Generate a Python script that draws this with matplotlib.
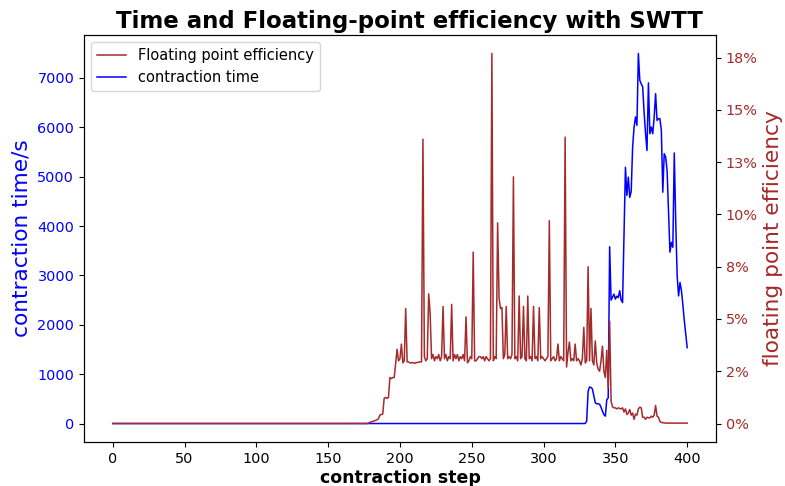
import matplotlib
matplotlib.use("Agg")
import matplotlib.pyplot as plt
from matplotlib.ticker import FixedLocator, FixedFormatter

# contraction step index
steps = list(range(0, 401))

# floating point efficiency per step, in percent
efficiency_pct = (
    [0.0] * 178
    + [0.02, 0.05, 0.08, 0.10, 0.12, 0.15, 0.18, 0.22, 0.40, 0.43,      # 178-187
       0.45, 1.20, 1.25, 1.20, 1.25, 2.20, 2.15, 2.20, 2.20, 2.90,      # 188-197
       3.55, 3.00, 3.10, 3.80, 2.90, 3.00, 5.50, 2.95, 2.95, 2.90,      # 198-207
       2.90, 2.92, 2.88, 2.90, 2.92, 2.93, 2.95, 2.95, 13.60, 3.20,     # 208-217
       3.00, 3.10, 6.20, 5.30, 3.10, 3.30, 3.00, 3.20, 3.10, 3.30,      # 218-227
       3.00, 3.20, 5.60, 3.10, 3.30, 3.00, 3.20, 3.10, 5.70, 3.00,      # 228-237
       3.30, 3.10, 3.30, 3.00, 3.20, 3.10, 3.30, 3.00, 5.10, 2.90,      # 238-247
       3.00, 3.20, 3.10, 8.20, 3.00, 3.00, 3.10, 3.20, 3.20, 3.10,      # 248-257
       3.20, 3.00, 3.20, 3.10, 3.00, 3.10, 17.70, 3.00, 3.20, 3.10,     # 258-267
       9.60, 6.00, 5.50, 5.55, 3.10, 3.30, 5.60, 3.10, 3.20, 3.10,      # 268-277
       3.30, 11.80, 3.10, 3.20, 3.00, 6.10, 3.10, 3.20, 5.60, 3.10,     # 278-287
       3.00, 6.10, 3.10, 3.20, 3.00, 5.60, 3.10, 3.20, 3.00, 5.55,      # 288-297
       3.10, 3.20, 3.10, 3.00, 3.10, 3.20, 9.70, 3.00, 3.10, 3.20,      # 298-307
       3.00, 3.10, 3.80, 3.00, 3.20, 3.10, 3.00, 13.70, 2.70, 3.40,     # 308-317
       3.90, 3.00, 3.10, 3.00, 3.80, 3.00, 3.10, 3.00, 2.80, 3.10,      # 318-327
       4.60, 2.90, 3.00, 7.50, 3.00, 5.50, 3.00, 2.80, 3.95, 2.90,      # 328-337
       2.60, 2.50, 3.00, 3.70, 2.50, 2.20, 3.50, 1.70, 4.90, 1.07,      # 338-347
       0.80, 0.75, 0.75, 0.70, 0.75, 0.72, 0.70, 0.75, 0.55, 0.70,      # 348-357
       0.43, 0.50, 0.67, 0.40, 0.50, 0.20, 0.45, 0.40, 0.70, 0.78,      # 358-367
       0.75, 0.30, 0.30, 0.20, 0.30, 0.28, 0.27, 0.35, 0.30, 0.40,      # 368-377
       0.86, 0.35, 0.30, 0.10, 0.05, 0.04, 0.03]                        # 378-384
    + [0.02] * 16                                                        # 385-400
)

# contraction time per step, in seconds
contraction_time = (
    [0.0] * 330
    + [50, 650, 740, 730, 700, 560, 420, 400, 400, 390,                 # 330-339
       330, 250, 180, 150, 480, 520, 3580, 2500, 2560, 2620,            # 340-349
       2520, 2580, 2550, 2690, 2500, 2450, 3800, 5190, 4620, 4990,      # 350-359
       4580, 4700, 5600, 6000, 6210, 6040, 7495, 6950, 6880, 6820,      # 360-369
       6300, 5870, 5530, 6900, 5870, 6005, 5870, 6200, 6680, 6140,      # 370-379
       6175, 6175, 5940, 4685, 5465, 5400, 5125, 4300, 3470, 3670,      # 380-389
       3570, 5480, 4100, 3000, 2585, 2855, 2690, 2400, 2080, 1800,      # 390-399
       1537]                                                             # 400
)

eff_ticks = [0, 2.5, 5, 7.5, 10, 12.5, 15, 17.5]
eff_tick_labels = ["0%", "2%", "5%", "8%", "10%", "13%", "15%", "18%"]

EFF_COLOR = "#a52a2a"
TIME_COLOR = "blue"

fig = plt.figure(figsize=(7.85, 4.86), dpi=100)
ax = fig.add_axes([0.107, 0.0905, 0.805, 0.8375])
ax2 = ax.twinx()

line_t, = ax.plot(steps, contraction_time, color=TIME_COLOR, lw=1.1,
                  label="contraction time")
line_e, = ax2.plot(steps, efficiency_pct, color=EFF_COLOR, lw=1.1,
                   label="Floating point efficiency")

ax.set_xlim(-20, 420)
ax.set_xticks([0, 50, 100, 150, 200, 250, 300, 350, 400])
ax.tick_params(axis="x", labelsize=10.4)
ax.set_xlabel("contraction step", fontsize=12.5, fontweight="bold", labelpad=2)

ax.set_ylabel("contraction time/s", color=TIME_COLOR, fontsize=15.6)
ax.tick_params(axis="y", labelcolor=TIME_COLOR, color="black", labelsize=10.4)

ax2.yaxis.set_major_locator(FixedLocator(eff_ticks))
ax2.yaxis.set_major_formatter(FixedFormatter(eff_tick_labels))
ax2.tick_params(axis="y", labelcolor=EFF_COLOR, color="black", labelsize=10.4)
ax2.set_ylabel("floating point efficiency", color=EFF_COLOR, fontsize=15.6)

ax.set_title("Time and Floating-point efficiency with SWTT",
             fontsize=16.5, fontweight="bold", pad=5, x=0.515)

ax2.legend(handles=[line_e, line_t], loc="upper left", fontsize=10.5)

fig.savefig("out.png", dpi=100)
